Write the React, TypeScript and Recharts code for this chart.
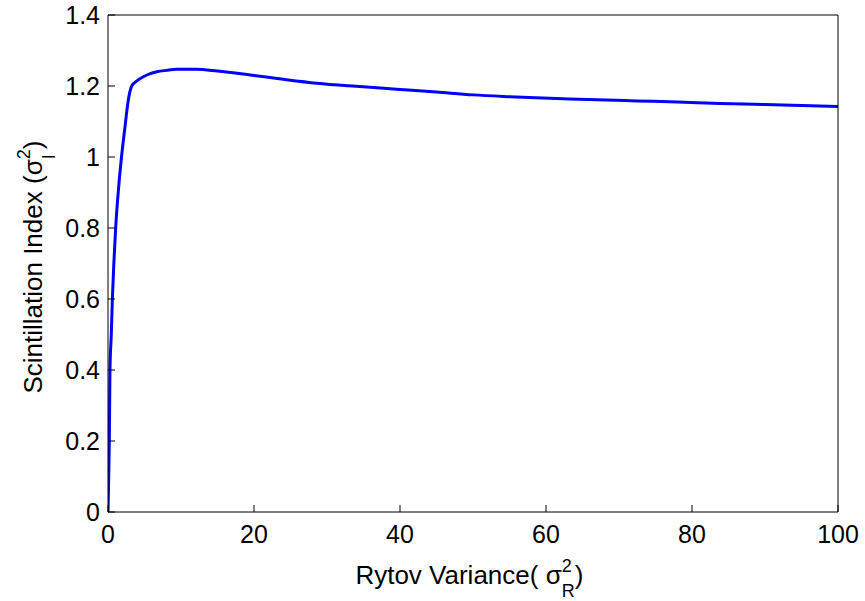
import React from 'react';
import { LineChart, Line, XAxis, YAxis, Label } from 'recharts';

// values
const rytovVariance = [
  0, 0.1, 0.18, 0.27, 0.45, 0.6, 0.8, 1.05, 1.4, 1.85,
  2.3, 2.78, 3.25, 4, 4.84, 5.7, 6.7, 8, 9.4, 12.1,
  15, 19.5, 24, 28.6, 34, 39.5, 45, 50, 55, 61.5,
  67, 72.4, 78, 83.8, 90, 95, 100,
];
const scintillationIndex = [
  0, 0.1, 0.2, 0.4, 0.5, 0.6, 0.7, 0.8, 0.9, 1.0,
  1.08, 1.16, 1.2, 1.215, 1.226, 1.234, 1.24, 1.244, 1.247, 1.247,
  1.242, 1.231, 1.219, 1.208, 1.199, 1.191, 1.183, 1.175, 1.17, 1.165,
  1.161, 1.158, 1.155, 1.151, 1.148, 1.145, 1.142,
];
const xTicks = [0, 20, 40, 60, 80, 100];
const yTicks = [0, 0.2, 0.4, 0.6, 0.8, 1, 1.2, 1.4];

const chartData = rytovVariance.map((x, i) => ({ x, y: scintillationIndex[i] }));

const FONT = '"Liberation Sans", Arial, Helvetica, sans-serif';
const TICK_SIZE = 25;
const TITLE_SIZE = 26;
const SCRIPT_SIZE = 18;

let ctx: CanvasRenderingContext2D | null = null;
const measure = (s: string, size: number) => {
  if (!ctx) ctx = document.createElement('canvas').getContext('2d');
  if (!ctx) return s.length * size * 0.55;
  ctx.font = `${size}px "Liberation Sans"`;
  return ctx.measureText(s).width;
};

// "main σ" + stacked sup/sub + tail, centred on cx along the baseline
function SigmaTitle({ cx, baseline, main, sup, sub, tail, rotate }: any) {
  const wMain = measure(main, TITLE_SIZE);
  const wScript = Math.max(measure(sup, SCRIPT_SIZE), measure(sub, SCRIPT_SIZE));
  const wTail = measure(tail, TITLE_SIZE);
  const x0 = cx - (wMain + wScript + wTail) / 2;
  const common = { fontFamily: FONT, fill: '#000' };
  return (
    <g transform={rotate ? `rotate(-90 ${cx} ${baseline})` : undefined}>
      <text x={x0} y={baseline} fontSize={TITLE_SIZE} {...common}>{main}</text>
      <text x={x0 + wMain} y={baseline - 12} fontSize={SCRIPT_SIZE} {...common}>{sup}</text>
      <text x={x0 + wMain} y={baseline + 13} fontSize={SCRIPT_SIZE} {...common}>{sub}</text>
      <text x={x0 + wMain + wScript} y={baseline} fontSize={TITLE_SIZE} {...common}>{tail}</text>
    </g>
  );
}

const XTitle = ({ viewBox }: any) => (
  <SigmaTitle
    cx={viewBox.x + viewBox.width / 2}
    baseline={viewBox.y + 72}
    main="Rytov Variance( σ"
    sup="2"
    sub="R"
    tail=" )"
  />
);

// rotated: the baseline ends up as a vertical line at x = 42
const YTitle = ({ viewBox }: any) => {
  const cy = viewBox.y + viewBox.height / 2;
  return (
    <g transform={`translate(${42 - cy} 0)`}>
      <SigmaTitle
        cx={cy}
        baseline={cy}
        main="Scintillation Index (σ"
        sup="2"
        sub="I"
        tail=" )"
        rotate
      />
    </g>
  );
};

export default function App() {
  const tickStyle = { fill: '#000', fontSize: TICK_SIZE, fontFamily: FONT };
  const lineStyle = { stroke: '#000', strokeWidth: 1 };
  return (
    <div style={{ position: 'absolute', left: 0, top: 0, width: 865, height: 601, background: '#fff' }}>
      <LineChart width={865} height={601} data={chartData} margin={{ top: 14, right: 26, left: 0, bottom: 0 }}>
        <XAxis
          dataKey="x"
          type="number"
          domain={[0, 100]}
          ticks={xTicks}
          height={89}
          tickSize={-7}
          tickMargin={20}
          tick={tickStyle}
          axisLine={lineStyle}
          tickLine={lineStyle}
          allowDataOverflow
        >
          <Label content={XTitle} />
        </XAxis>
        <XAxis
          xAxisId="top"
          orientation="top"
          dataKey="x"
          type="number"
          domain={[0, 100]}
          ticks={xTicks}
          height={1}
          tickSize={-7}
          tick={false}
          axisLine={lineStyle}
          tickLine={lineStyle}
        />
        <YAxis
          type="number"
          domain={[0, 1.4]}
          ticks={yTicks}
          width={108}
          tickSize={-7}
          tickMargin={15}
          tick={tickStyle}
          axisLine={lineStyle}
          tickLine={lineStyle}
          allowDataOverflow
        >
          <Label content={YTitle} />
        </YAxis>
        <YAxis
          yAxisId="right"
          orientation="right"
          type="number"
          domain={[0, 1.4]}
          ticks={yTicks}
          width={1}
          tickSize={-7}
          tick={false}
          axisLine={lineStyle}
          tickLine={lineStyle}
        />
        <Line
          type="monotone"
          dataKey="y"
          stroke="#0000ff"
          strokeWidth={3}
          dot={false}
          isAnimationActive={false}
        />
      </LineChart>
    </div>
  );
}
